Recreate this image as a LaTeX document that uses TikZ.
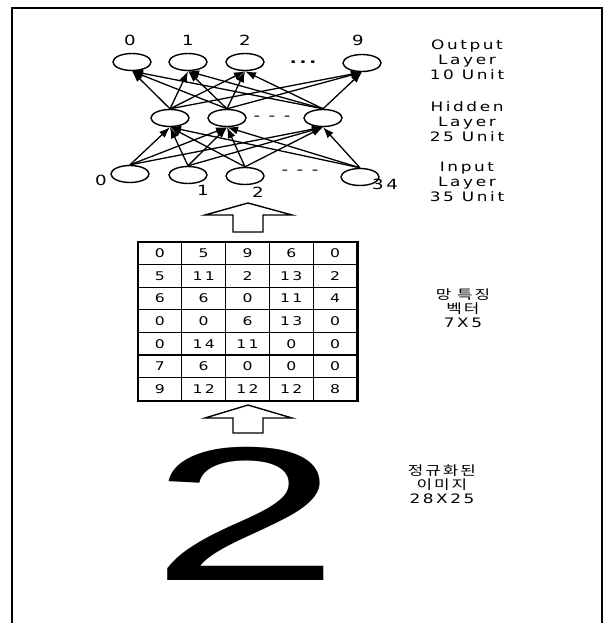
\documentclass[tikz,border=0pt]{standalone}
\usepackage{fontspec}
\usepackage{graphicx}
\usepackage{tikz}
\usetikzlibrary{shapes.geometric,arrows.meta}
\newfontfamily\labfont[FakeStretch=1.3,LetterSpace=20]{DejaVu Sans}
\newfontfamily\krfont[FakeStretch=1.3,LetterSpace=15]{Noto Sans CJK KR}
\newfontfamily\digitfont{Liberation Sans}

\begin{document}
\begin{tikzpicture}[x=1pt,y=-1pt]
        \tikzstyle{unit}=[ellipse, draw, line width=1.4pt, minimum width=38pt, minimum height=17pt, inner sep=0pt]
        \tikzstyle{cell}=[rectangle, draw, line width=1.2pt, minimum width=43.8pt, minimum height=22.6pt, inner sep=0pt, font=\labfont\fontsize{12}{13}\selectfont]
        \tikzstyle{conn}=[line width=1.3pt, -{Latex[length=11pt,width=8pt]}]
        \tikzstyle{num}=[font=\labfont\fontsize{14}{15}\selectfont, inner sep=0pt]
        \tikzstyle{txt}=[font=\labfont\fontsize{13}{15}\selectfont, align=center, inner sep=0pt]
        \tikzstyle{krtxt}=[font=\krfont\fontsize{13}{14.5}\selectfont, align=center, inner sep=0pt]
        \tikzstyle{blockarrow}=[line width=1.4pt, fill=white]

        \useasboundingbox (0,0) rectangle (605,623);
        \draw[line width=1.4pt] (12,623) -- (12,8) -- (602,8) -- (602,623);

        % output layer
            \node[unit](out0) at (132,62){};
            \node[unit](out1) at (188,62){};
            \node[unit](out2) at (245,62){};
            \node[unit](out9) at (362,63){};
            \node[num](lo0) at (130,40){0};
            \node[num](lo1) at (188,40){1};
            \node[num](lo2) at (245,40){2};
            \node[num](lo9) at (358,40){9};
            \node[num, font=\bfseries\labfont\fontsize{14}{15}\selectfont](odots) at (303,62){...};

        % hidden layer
            \node[unit](hid0) at (170,118){};
            \node[unit](hid1) at (227,118){};
            \node[unit](hid24) at (323,118){};
            \node[num](hdots) at (272,118){- - -};

        % input layer
            \node[unit](in0) at (130,174){};
            \node[unit](in1) at (188,175){};
            \node[unit](in2) at (245,176){};
            \node[unit](in34) at (360,177){};
            \node[num](li0) at (101,180){0};
            \node[num](li1) at (203,190){1};
            \node[num](li2) at (258,192){2};
            \node[num](li34) at (385,184){34};
            \node[num](idots) at (300,172){- - -};

            \foreach \from in {in0,in1,in2,in34}
            \foreach \to in {hid0,hid1,hid24}
            \draw[conn] (\from.north) -- (\to.south);

            \foreach \from in {hid0,hid1,hid24}
            \foreach \to in {out0,out1,out2,out9}
            \draw[conn] (\from.north) -- (\to.south);

            \node[txt](outlab) at (467,60){Output\\Layer\\10 Unit};
            \node[txt](hidlab) at (467,122){Hidden\\Layer\\25 Unit};
            \node[txt](inlab) at (467,182){Input\\Layer\\35 Unit};

        % feature vector
            \draw[blockarrow] (205,215) -- (248,203) -- (292,215) -- (263,215) -- (263,232) -- (233,232) -- (233,215) -- cycle;

            \foreach \row/\vals in {1/{0,5,9,6,0},2/{5,11,2,13,2},3/{6,6,0,11,4},4/{0,0,6,13,0},5/{0,14,11,0,0},6/{7,6,0,0,0},7/{9,12,12,12,8}}
            \foreach \v [count=\col] in \vals
            \node[cell](c-\row-\col) at ({138+43.8*(\col-0.5)},{242+22.6*(\row-0.5)}){\v};
            \draw[line width=1.8pt] (c-1-1.north west) rectangle (c-7-5.south east);

            \node[krtxt](veclab) at (463,308){망 특징\\벡터\\[-1pt]{\labfont 7X5}};

        % normalized image
            \draw[blockarrow] (205,418) -- (248,405) -- (292,418) -- (263,418) -- (263,433) -- (233,433) -- (233,418) -- cycle;

            \node[inner sep=0pt](digit) at (246,514){\resizebox{190pt}{133pt}{\digitfont 2}};

            \node[krtxt](imglab) at (442,484){정규화된\\이미지\\[-1pt]{\labfont 28X25}};

\end{tikzpicture}
\end{document}
